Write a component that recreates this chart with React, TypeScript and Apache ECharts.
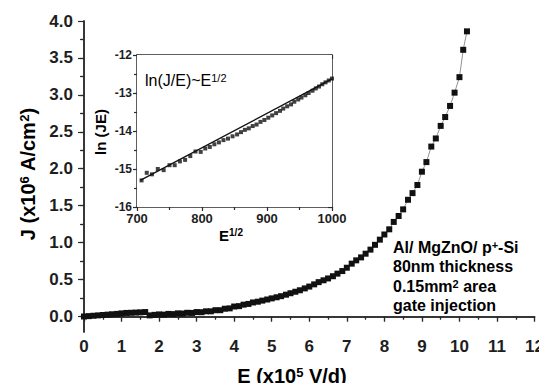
import React, { useEffect, useRef } from "react";
import * as echarts from "echarts";

const FONT = '"Liberation Sans", Arial, Helvetica, sans-serif';

// Main J-E curve (E in 1e5 V/d, J in 1e6 A/cm2)
const E_VALUES = [
  0.0, 0.13, 0.25, 0.38, 0.5, 0.63, 0.75, 0.88, 1.0, 1.13, 1.25, 1.38, 1.5, 1.63,
  1.75, 1.88, 2.0, 2.13, 2.25, 2.38, 2.5, 2.63, 2.75, 2.88, 3.0, 3.13, 3.25, 3.38,
  3.5, 3.63, 3.75, 3.88, 4.0, 4.13, 4.25, 4.38, 4.5, 4.63, 4.75, 4.88, 5.0, 5.13,
  5.25, 5.38, 5.5, 5.63, 5.75, 5.88, 6.0, 6.13, 6.25, 6.38, 6.5, 6.63, 6.75, 6.88,
  7.0, 7.13, 7.25, 7.38, 7.5, 7.63, 7.75, 7.88, 8.0, 8.13, 8.25, 8.38, 8.5, 8.63,
  8.75, 8.88, 9.0, 9.12, 9.25, 9.37, 9.5, 9.62, 9.75, 9.87, 10.0, 10.1, 10.2,
];
const J_VALUES = [
  0.0, 0.005, 0.01, 0.015, 0.02, 0.025, 0.03, 0.035, 0.042, 0.048, 0.05, 0.053, 0.056, 0.06,
  0.015, 0.022, 0.028, 0.025, 0.035, 0.032, 0.042, 0.04, 0.05, 0.048, 0.06, 0.058, 0.07, 0.07,
  0.085, 0.085, 0.105, 0.11, 0.135, 0.14, 0.16, 0.17, 0.19, 0.2, 0.215, 0.23, 0.245, 0.26,
  0.275, 0.295, 0.315, 0.335, 0.355, 0.38, 0.405, 0.435, 0.465, 0.49, 0.515, 0.545, 0.58, 0.615,
  0.66, 0.715, 0.76, 0.8, 0.85, 0.905, 0.97, 1.04, 1.11, 1.18, 1.28, 1.36, 1.45, 1.58,
  1.67, 1.78, 1.96, 2.09, 2.3, 2.41, 2.58, 2.7, 2.85, 3.03, 3.24, 3.61, 3.86,
];

// Inset: ln(JE) vs E^1/2
const SQRT_E = [
  707, 715, 723, 732, 741, 750, 758, 766, 774, 782, 790, 798, 805, 812, 819, 826,
  833, 840, 847, 854, 860, 866, 872, 878, 884, 890, 896, 902, 908, 914, 920, 925,
  931, 937, 942, 948, 953, 959, 964, 970, 975, 980, 985, 990, 995, 1000,
];
const LN_JE = [
  -15.3, -15.1, -15.14, -15.0, -15.03, -14.9, -14.9, -14.8, -14.76, -14.66, -14.54, -14.55,
  -14.46, -14.42, -14.35, -14.3, -14.24, -14.2, -14.14, -14.09, -14.03, -13.97, -13.93,
  -13.87, -13.83, -13.76, -13.71, -13.65, -13.59, -13.53, -13.47, -13.41, -13.35, -13.3,
  -13.23, -13.17, -13.12, -13.06, -13.0, -12.94, -12.88, -12.83, -12.77, -12.72, -12.67, -12.62,
];
const FIT_X = [705, 1000];
const FIT_Y = [-15.3, -12.63];

const Y_MAJOR = [0, 0.5, 1, 1.5, 2, 2.5, 3, 3.5, 4];
const Y_MINOR = [0.25, 0.75, 1.25, 1.75, 2.25, 2.75, 3.25, 3.75];
const Y_ALL = [0, 0.25, 0.5, 0.75, 1, 1.25, 1.5, 1.75, 2, 2.25, 2.5, 2.75, 3, 3.25, 3.5, 3.75];

const AX = "#2a2a2a";
const TXT = "#1e1e1e";

export default function App() {
  const ref = useRef<HTMLDivElement>(null);
  useEffect(() => {
    if (!ref.current) return;
    const chart = echarts.init(ref.current, undefined, { renderer: "svg" });
    const line = { lineStyle: { color: AX, width: 1.5 } };
    const tickStyle = { color: AX, width: 1.2 };
    const richBase = (size: number, sup: number, weight: string = "bold") => ({
      n: { fontSize: size, fontWeight: weight, fontFamily: FONT, color: TXT },
      s: { fontSize: sup, fontWeight: weight, fontFamily: FONT, color: TXT, verticalAlign: "top" },
    });
    const option: any = {
      animation: false,
      backgroundColor: "#fff",
      grid: [
        { left: 84, top: 21, width: 451, height: 311, containLabel: false },
        { left: 137, top: 55, width: 195, height: 152, show: true, backgroundColor: "#fff", borderWidth: 0, z: 3 },
      ],
      xAxis: [
        {
          gridIndex: 0, type: "value", min: 0, max: 12, interval: 1, position: "bottom",
          axisLine: line, axisTick: { inside: false, length: 5, lineStyle: tickStyle },
          minorTick: { show: true, splitNumber: 2, length: 3, lineStyle: tickStyle },
          splitLine: { show: false },
          axisLabel: { fontSize: 17, fontWeight: "bold", color: TXT, fontFamily: FONT, margin: 6 },
        },
        {
          gridIndex: 0, type: "value", min: 0, max: 12, interval: 1, position: "top",
          axisLine: line, axisTick: { inside: true, length: 5, lineStyle: tickStyle },
          minorTick: { show: true, splitNumber: 2, length: 3, lineStyle: tickStyle },
          splitLine: { show: false }, axisLabel: { show: false },
        },
        {
          gridIndex: 1, type: "value", min: 700, max: 1000, interval: 100, position: "bottom",
          axisLine: line, axisTick: { inside: false, length: 4, lineStyle: tickStyle },
          minorTick: { show: true, splitNumber: 2, length: 3, lineStyle: tickStyle },
          splitLine: { show: false },
          axisLabel: {
            fontSize: 13, fontWeight: "bold", color: TXT, fontFamily: FONT, margin: 5,
            formatter: (v: number) => String(v),
          },
        },
        {
          gridIndex: 1, type: "value", min: 700, max: 1000, interval: 100, position: "top",
          axisLine: line, axisTick: { inside: true, length: 4, lineStyle: tickStyle },
          minorTick: { show: true, splitNumber: 2, length: 3, lineStyle: tickStyle },
          splitLine: { show: false }, axisLabel: { show: false },
        },
      ],
      yAxis: [
        {
          gridIndex: 0, type: "value", min: -0.21, max: 4, position: "left",
          axisLine: line,
          axisTick: { inside: false, length: 6, lineStyle: tickStyle, customValues: Y_MAJOR },
          splitLine: { show: false },
          axisLabel: {
            customValues: Y_MAJOR, fontSize: 17, fontWeight: "bold", color: TXT, fontFamily: FONT, margin: 11,
            formatter: (v: number) => v.toFixed(1),
          },
        },
        {
          gridIndex: 0, type: "value", min: -0.21, max: 4, position: "right",
          axisLine: line,
          axisTick: { inside: true, length: 4, lineStyle: tickStyle, customValues: Y_ALL },
          splitLine: { show: false }, axisLabel: { show: false },
        },
        {
          gridIndex: 0, type: "value", min: -0.21, max: 4, position: "left",
          axisLine: { show: false },
          axisTick: { inside: false, length: 3, lineStyle: tickStyle, customValues: Y_MINOR },
          splitLine: { show: false }, axisLabel: { show: false },
        },
        {
          gridIndex: 1, type: "value", min: -16, max: -12, interval: 1, position: "left",
          axisLine: line, axisTick: { inside: false, length: 4, lineStyle: tickStyle },
          minorTick: { show: true, splitNumber: 2, length: 3, lineStyle: tickStyle },
          splitLine: { show: false },
          axisLabel: { fontSize: 12, fontWeight: "bold", color: TXT, fontFamily: FONT, margin: 5 },
        },
        {
          gridIndex: 1, type: "value", min: -16, max: -12, interval: 1, position: "right",
          axisLine: line, axisTick: { inside: true, length: 4, lineStyle: tickStyle },
          minorTick: { show: true, splitNumber: 2, length: 3, lineStyle: tickStyle },
          splitLine: { show: false }, axisLabel: { show: false },
        },
      ],
      series: [
        {
          type: "line", xAxisIndex: 0, yAxisIndex: 0,
          data: E_VALUES.map((e, i) => [e, J_VALUES[i]]),
          symbol: "rect", symbolSize: 6, showSymbol: true,
          itemStyle: { color: "#111" }, lineStyle: { color: "#777", width: 0.8 },
          z: 2,
        },
        {
          type: "scatter", xAxisIndex: 2, yAxisIndex: 3,
          data: SQRT_E.map((x, i) => [x, LN_JE[i]]),
          symbol: "rect", symbolSize: 4, itemStyle: { color: "#111" }, z: 5,
        },
        {
          type: "line", xAxisIndex: 2, yAxisIndex: 3,
          data: FIT_X.map((x, i) => [x, FIT_Y[i]]),
          symbol: "none", lineStyle: { color: "#111", width: 1.3 }, z: 5,
        },
      ],
      graphic: [
        {
          type: "text", x: 28, y: 174, rotation: Math.PI / 2, z: 10,
          style: {
            text: "{n|J (x10}{s|6}{n| A/cm}{s|2}{n|)}",
            rich: richBase(20, 13), align: "center", verticalAlign: "middle",
          },
        },
        {
          type: "text", x: 292, y: 376, z: 10,
          style: {
            text: "{n|E (x10}{s|5}{n| V/d)}",
            rich: richBase(20, 13), align: "center", verticalAlign: "middle",
          },
        },
        {
          type: "text", x: 100, y: 132, rotation: Math.PI / 2, z: 10,
          style: {
            text: "{n|ln (JE)}", rich: richBase(15, 10), align: "center", verticalAlign: "middle",
          },
        },
        {
          type: "text", x: 231, y: 235, z: 10,
          style: {
            text: "{n|E}{s|1/2}", rich: richBase(15, 10), align: "center", verticalAlign: "middle",
          },
        },
        {
          type: "text", x: 145, y: 80, z: 10,
          style: {
            text: "{n|ln(J/E)~E}{s|1/2}", rich: richBase(16, 11, "normal"), align: "left", verticalAlign: "middle",
          },
        },
        {
          type: "text", x: 393, y: 247, z: 10,
          style: { text: "{n|Al/ MgZnO/ p}{s|+}{n|-Si}", rich: richBase(16, 11), align: "left", verticalAlign: "middle" },
        },
        {
          type: "text", x: 393, y: 266, z: 10,
          style: { text: "{n|80nm thickness}", rich: richBase(16, 11), align: "left", verticalAlign: "middle" },
        },
        {
          type: "text", x: 393, y: 286, z: 10,
          style: { text: "{n|0.15mm}{s|2}{n| area}", rich: richBase(16, 11), align: "left", verticalAlign: "middle" },
        },
        {
          type: "text", x: 393, y: 305, z: 10,
          style: { text: "{n|gate injection}", rich: richBase(16, 11), align: "left", verticalAlign: "middle" },
        },
      ],
    };
    chart.setOption(option);
    return () => chart.dispose();
  }, []);
  return <div ref={ref} style={{ width: 547, height: 391, margin: -8 }} />;
}
